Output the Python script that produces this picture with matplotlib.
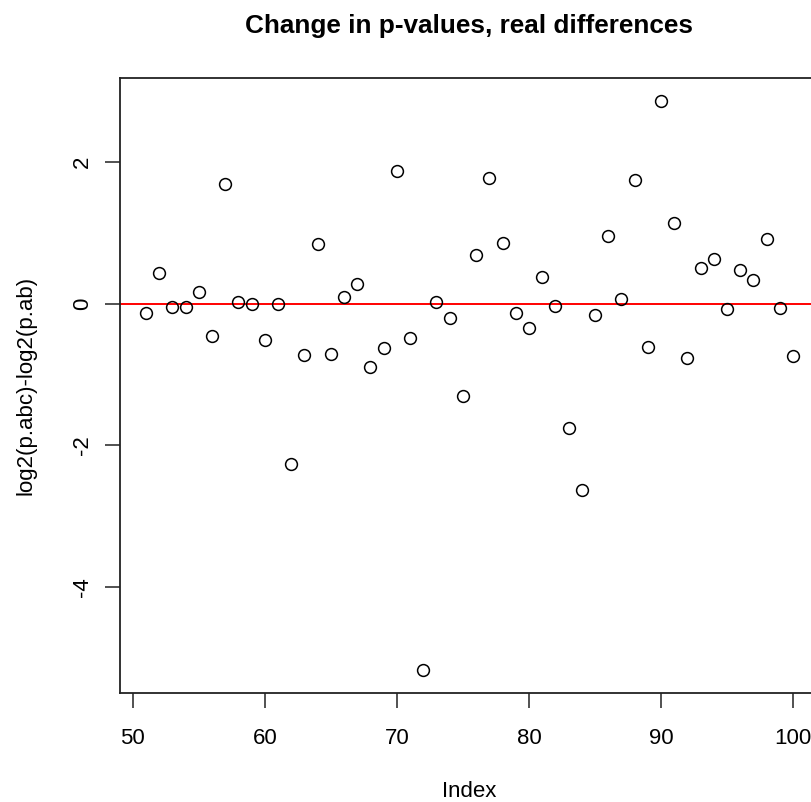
import numpy as np
import matplotlib
matplotlib.use("Agg")
import matplotlib.pyplot as plt

index = np.arange(51, 101)
log2_diff = [-0.13, 0.43, -0.05, -0.05, 0.17, -0.46, 1.69, 0.02, 0.00, -0.52,
             0.00, -2.26, -0.73, 0.84, -0.71, 0.10, 0.28, -0.89, -0.62, 1.87,
             -0.49, -5.17, 0.02, -0.21, -1.30, 0.68, 1.77, 0.85, -0.13, -0.34,
             0.38, -0.03, -1.76, -2.63, -0.16, 0.96, 0.07, 1.74, -0.61, 2.86,
             1.14, -0.77, 0.50, 0.63, -0.08, 0.48, 0.33, 0.91, -0.06, -0.74]
x_ticks = [50, 60, 70, 80, 90, 100]
y_ticks = [-4, -2, 0, 2]

plt.rcParams['font.family'] = ['Liberation Sans', 'DejaVu Sans']

fig = plt.figure(figsize=(8.12, 8.02), dpi=100)
W, H = 812, 802
# plot box: left 120px, top 78px, bottom 693px, right edge runs past the image
ax = fig.add_axes([120 / W, (H - 693) / H, (819 - 120) / W, (693 - 78) / H])

ax.plot(index, log2_diff, 'o', markerfacecolor='none', markeredgecolor='black',
        markersize=8.5, markeredgewidth=1.1, clip_on=False, zorder=3)
ax.axhline(0, color='red', linewidth=1.4, zorder=2)

# R style 4% padding on both axes
xr = index.max() - index.min()
ax.set_xlim(index.min() - 0.04 * xr, index.max() + 0.04 * xr)
yr = max(log2_diff) - min(log2_diff)
ax.set_ylim(min(log2_diff) - 0.04 * yr, max(log2_diff) + 0.04 * yr)

ax.set_xticks(x_ticks)
ax.set_yticks(y_ticks)
ax.set_yticklabels([str(v) for v in y_ticks], rotation=90, va='center')
ax.tick_params(axis='both', direction='out', length=10.5, width=1.1,
               labelsize=16, color='#222222')
ax.tick_params(axis='x', pad=15)
ax.tick_params(axis='y', pad=9)
for s in ax.spines.values():
    s.set_linewidth(1.3)
    s.set_color('#222222')

ax.set_xlabel('Index', fontsize=16)
ax.xaxis.set_label_coords(0.5, (693 - 781) / 615)
ax.set_ylabel('log2(p.abc)-log2(p.ab)', fontsize=16)
ax.yaxis.set_label_coords((36 - 120) / 699, 0.5)
ax.set_title('Change in p-values, real differences', fontsize=18.8,
             fontweight='bold', pad=32.5)

fig.savefig('out.png', dpi=100)
